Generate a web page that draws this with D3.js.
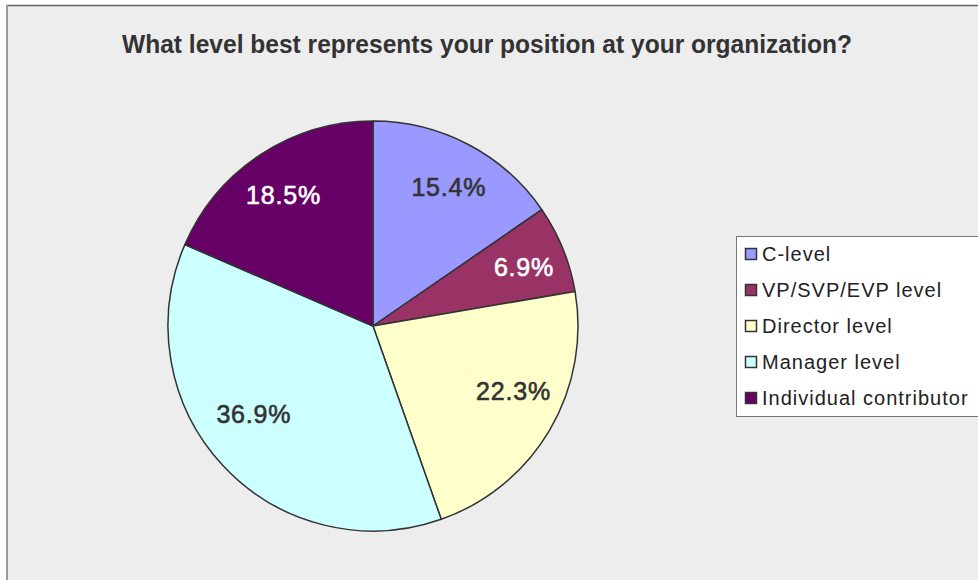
<!DOCTYPE html>
<html>
<head>
<meta charset="utf-8">
<script src="https://cdn.jsdelivr.net/npm/d3@7"></script>
<style>
  html, body { margin: 0; padding: 0; background: #fff; }
</style>
</head>
<body>
<div id="chart"></div>
<script>
var width = 978;
var height = 580;

// data
var categories = ["C-level", "VP/SVP/EVP level", "Director level", "Manager level", "Individual contributor"];
var values = [15.4, 6.9, 22.3, 36.9, 18.5];
var colors = ["#9999FF", "#993366", "#FFFFCC", "#CCFFFF", "#660066"];
var labelColors = ["#333333", "#ffffff", "#333333", "#333333", "#ffffff"];
var title = "What level best represents your position at your organization?";

var cx = 373, cy = 326, radius = 205;

// label placement like the office chart: a bit flattened below the centre
function labelPos(d){
  var a = (d.startAngle + d.endAngle) / 2;
  var c = Math.cos(a);
  var x = 163 * Math.sin(a);
  var y = -c * (c > 0 ? 157 : 129);
  return [x, y];
}

function buildChart(){
  const svg = d3.create("svg")
      .attr("width", width)
      .attr("height", height)
      .style("font-family", "'Liberation Sans', Arial, sans-serif");

  // chart area frame
  svg.append("rect")
      .attr("x", 6).attr("y", 5)
      .attr("width", width).attr("height", height)
      .attr("fill", "#EDEDED");
  svg.append("line")
      .attr("x1", 6).attr("x2", width).attr("y1", 5.5).attr("y2", 5.5)
      .attr("stroke", "#666").attr("stroke-width", 1.5);
  svg.append("line")
      .attr("x1", 7).attr("x2", 7).attr("y1", 5).attr("y2", height)
      .attr("stroke", "#999").attr("stroke-width", 2);

  svg.append("text")
      .attr("x", 487)
      .attr("y", 53)
      .attr("text-anchor", "middle")
      .attr("fill", "#333")
      .attr("font-size", 25)
      .attr("font-weight", "bold")
      .attr("textLength", 730)
      .attr("lengthAdjust", "spacingAndGlyphs")
      .text(title);

  const data = categories.map((c, i) => ({name: c, value: values[i], color: colors[i], labelColor: labelColors[i]}));

  const pie = d3.pie().sort(null).value(d => d.value);
  const arc = d3.arc().innerRadius(0).outerRadius(radius);

  const g = svg.append("g").attr("transform", `translate(${cx},${cy})`);
  const arcs = pie(data);

  g.selectAll("path")
    .data(arcs)
    .join("path")
      .attr("d", arc)
      .attr("fill", d => d.data.color)
      .attr("stroke", "#333")
      .attr("stroke-width", 1.5)
      .attr("stroke-linejoin", "round");

  g.selectAll("text")
    .data(arcs)
    .join("text")
      .attr("transform", d => `translate(${labelPos(d)})`)
      .attr("text-anchor", "middle")
      .attr("dy", "0.36em")
      .attr("font-size", 25)
      .attr("letter-spacing", 0.8)
      .attr("fill", d => d.data.labelColor)
      .attr("stroke", d => d.data.labelColor)
      .attr("stroke-width", 0.6)
      .text(d => d.data.value.toFixed(1) + "%");

  // legend
  const legend = svg.append("g").attr("transform", "translate(736,236)");
  legend.append("rect")
      .attr("x", 0.5).attr("y", 0.5)
      .attr("width", 260).attr("height", 180)
      .attr("fill", "#fff")
      .attr("stroke", "#777");

  const item = legend.selectAll("g.item")
    .data(data)
    .join("g")
      .attr("class", "item")
      .attr("transform", (d, i) => `translate(0,${18 + i * 36})`);

  item.append("rect")
      .attr("x", 9.5).attr("y", -5.5)
      .attr("width", 11).attr("height", 11)
      .attr("fill", d => d.color)
      .attr("stroke", "#333")
      .attr("stroke-width", 1.5);

  item.append("text")
      .attr("x", 26)
      .attr("y", 0)
      .attr("dy", "0.36em")
      .attr("font-size", 20)
      .attr("letter-spacing", 1)
      .attr("fill", "#222")
      .text(d => d.name);

  return svg.node();
}

document.getElementById("chart").append(buildChart());
</script>
</body>
</html>
